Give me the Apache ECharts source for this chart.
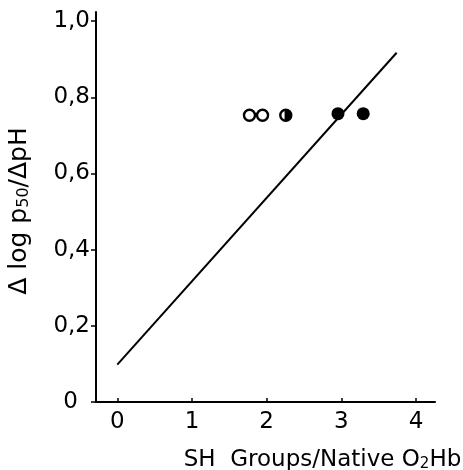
<!DOCTYPE html>
<html>
<head>
<meta charset="utf-8">
<script src="https://cdn.jsdelivr.net/npm/echarts@6/dist/echarts.min.js"></script>
<style>html,body{margin:0;padding:0;background:#fff}#c{width:463px;height:470px}</style>
</head>
<body>
<div id="c"></div>
<script>
// Data
const xTicks = [0, 1, 2, 3, 4];
const yTicks = [0, 0.2, 0.4, 0.6, 0.8, 1.0];
const openPoints = [[1.77, 0.753], [1.945, 0.753]];
const halfPoints = [[2.256, 0.753]];
const filledPoints = [[2.955, 0.757], [3.293, 0.757]];
const fitLine = [[0, 0.098], [3.74, 0.917]];

const FONT = 'DejaVu Sans';
const chart = echarts.init(document.getElementById('c'));
chart.setOption({
  backgroundColor: '#fff',
  animation: false,
  grid: { left: 96, right: 28, top: 12, bottom: 68, containLabel: false, outerBoundsMode: 'none' },
  xAxis: {
    type: 'value', min: -0.285, max: 4.254,
    splitLine: { show: false },
    axisLine: { show: true, onZero: false, lineStyle: { color: '#000', width: 2 } },
    axisTick: { show: true, inside: true, length: 4, customValues: xTicks, lineStyle: { color: '#000', width: 1.5 } },
    axisLabel: { customValues: xTicks, color: '#000', fontFamily: FONT, fontSize: 23, margin: 9 },
    name: 'SH  Groups/Native O{s|2}Hb',
    nameLocation: 'middle', nameGap: 46,
    nameTextStyle: {
      color: '#000', fontFamily: FONT, fontSize: 23, padding: [0, 0, 0, 114],
      rich: { s: { fontFamily: FONT, fontSize: 15, color: '#000', padding: [9, 0, 0, 0] } }
    }
  },
  yAxis: {
    type: 'value', min: 0, max: 1.024,
    splitLine: { show: false },
    axisLine: { show: true, onZero: false, lineStyle: { color: '#000', width: 2 } },
    axisTick: { show: true, inside: false, length: 5, customValues: yTicks, lineStyle: { color: '#000', width: 1.5 } },
    axisLabel: {
      customValues: yTicks, color: '#000', fontFamily: FONT, fontSize: 23, margin: 6,
      formatter: v => v === 0 ? '{z|0}' : v.toFixed(1).replace('.', ','),
      rich: { z: { fontFamily: FONT, fontSize: 23, color: '#000', padding: [0, 12, 0, 0] } }
    },
    name: 'Δ log p{s|50}/ΔpH',
    nameLocation: 'middle', nameGap: 64, nameRotate: 90,
    nameTextStyle: {
      color: '#000', fontFamily: FONT, fontSize: 25, padding: [0, 8, 0, 0],
      rich: { s: { fontFamily: FONT, fontSize: 16, color: '#000', padding: [10, 0, 0, 0] } }
    }
  },
  series: [
    {
      type: 'line', data: fitLine, symbol: 'none',
      lineStyle: { color: '#000', width: 2 }, z: 2
    },
    {
      type: 'scatter', data: openPoints, symbol: 'circle', symbolSize: 11,
      itemStyle: { color: '#fff', borderColor: '#000', borderWidth: 2.4, opacity: 1 }, z: 3
    },
    {
      type: 'scatter', data: halfPoints, symbol: 'circle', symbolSize: 11,
      itemStyle: { color: '#fff', borderColor: '#000', borderWidth: 2.4, opacity: 1 }, z: 3
    },
    {
      type: 'scatter', data: halfPoints,
      symbol: 'path://M0,0 A50,50 0 0,1 0,100 L10,100 L10,0 Z',
      symbolSize: [9, 12], symbolOffset: [1.5, 0],
      itemStyle: { color: '#000', opacity: 1 }, z: 4
    },
    {
      type: 'scatter', data: filledPoints, symbol: 'circle', symbolSize: 13,
      itemStyle: { color: '#000', opacity: 1 }, z: 3
    }
  ]
});
</script>
</body>
</html>
